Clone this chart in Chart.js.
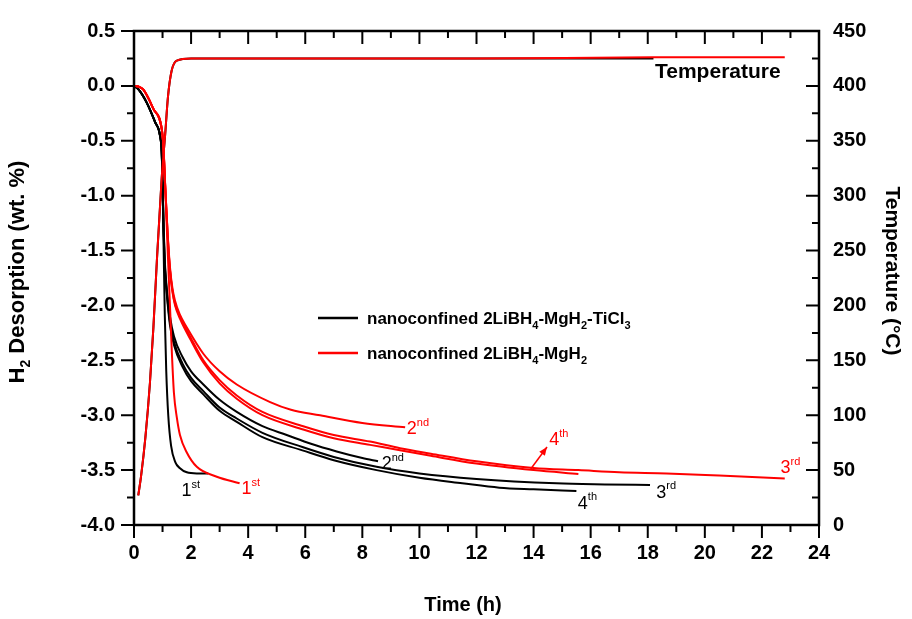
<!DOCTYPE html>
<html>
<head>
<meta charset="utf-8">
<script src="https://cdn.jsdelivr.net/npm/chart.js@4.4.0/dist/chart.umd.min.js"></script>
<style>
  html, body { margin: 0; background: #fff; }
  #wrap { width: 912px; height: 619px; }
</style>
</head>
<body>
<div id="wrap"><canvas id="c" width="912" height="619"></canvas></div>
<script>
// ================================================================
// DATA
// ================================================================
// black = nanoconfined 2LiBH4-MgH2-TiCl3
const blk1Time = [0, 0.15, 0.44, 0.74, 0.91, 0.97, 1.0, 1.04, 1.08, 1.13, 1.2, 1.3, 1.45, 1.6, 1.85, 2.2, 2.6];
const blk1H2   = [0, -0.03, -0.15, -0.33, -0.45, -0.6, -0.9, -1.5, -2.1, -2.6, -3.0, -3.28, -3.43, -3.48, -3.52, -3.53, -3.53];

const blk2Time = [0, 0.15, 0.44, 0.74, 0.91, 0.97, 1.0, 1.04, 1.08, 1.15, 1.26, 1.4, 1.7, 2.0, 2.43, 3.0, 3.6, 4.5, 5.35, 6.2, 7.1, 8.0, 8.55];
const blk2H2   = [0, -0.03, -0.15, -0.33, -0.45, -0.6, -0.85, -1.3, -1.6, -1.85, -2.1, -2.28, -2.47, -2.6, -2.72, -2.86, -2.97, -3.1, -3.18, -3.26, -3.33, -3.39, -3.42];

const blk3Time = [0, 0.15, 0.44, 0.74, 0.91, 0.97, 1.0, 1.04, 1.08, 1.15, 1.26, 1.4, 1.7, 2.0, 2.43, 3.0, 3.6, 4.5, 5.9, 7.0, 8.5, 10, 12, 14.8, 16.5, 18.08];
const blk3H2   = [0, -0.03, -0.15, -0.33, -0.45, -0.6, -0.87, -1.33, -1.63, -1.88, -2.15, -2.33, -2.53, -2.66, -2.78, -2.93, -3.03, -3.16, -3.29, -3.38, -3.47, -3.53, -3.58, -3.62, -3.63, -3.636];

const blk4Time = [0, 0.15, 0.44, 0.74, 0.91, 0.97, 1.0, 1.04, 1.08, 1.15, 1.26, 1.4, 1.7, 2.0, 2.43, 3.0, 3.6, 4.5, 5.9, 7.0, 8.5, 10, 11.5, 12.8, 14, 15.5];
const blk4H2   = [0, -0.03, -0.15, -0.33, -0.45, -0.6, -0.88, -1.35, -1.65, -1.9, -2.18, -2.36, -2.56, -2.69, -2.81, -2.96, -3.06, -3.2, -3.32, -3.41, -3.5, -3.57, -3.62, -3.66, -3.675, -3.69];

// red = nanoconfined 2LiBH4-MgH2
const red1Time = [0, 0.15, 0.33, 0.68, 0.97, 1.03, 1.1, 1.18, 1.26, 1.33, 1.4, 1.5, 1.61, 1.85, 2.2, 2.9, 3.7];
const red1H2   = [0, -0.005, -0.035, -0.21, -0.39, -0.55, -0.95, -1.5, -2.0, -2.45, -2.8, -3.02, -3.18, -3.34, -3.47, -3.56, -3.62];

const red2Time = [0, 0.15, 0.33, 0.68, 0.97, 1.03, 1.09, 1.18, 1.26, 1.35, 1.44, 1.6, 1.85, 2.43, 3.0, 3.6, 4.77, 5.5, 6.52, 8.0, 9.5];
const red2H2   = [0, -0.005, -0.035, -0.21, -0.39, -0.55, -0.9, -1.35, -1.65, -1.85, -1.96, -2.08, -2.2, -2.44, -2.6, -2.72, -2.88, -2.95, -3.0, -3.07, -3.11];

const red3Time = [0, 0.15, 0.33, 0.68, 0.97, 1.03, 1.09, 1.18, 1.26, 1.35, 1.44, 1.61, 2.0, 2.43, 3.0, 3.6, 4.5, 5.93, 7.0, 8.27, 9.32, 10.4, 12, 14, 15.57, 17, 18.66, 20.5, 22.8];
const red3H2   = [0, -0.005, -0.035, -0.21, -0.39, -0.55, -0.9, -1.36, -1.67, -1.87, -1.99, -2.1, -2.3, -2.5, -2.68, -2.82, -2.97, -3.1, -3.18, -3.24, -3.3, -3.35, -3.42, -3.48, -3.5, -3.52, -3.53, -3.55, -3.577];

const red4Time = [0, 0.15, 0.33, 0.68, 0.97, 1.03, 1.09, 1.18, 1.26, 1.35, 1.44, 1.61, 2.0, 2.43, 3.0, 3.6, 4.5, 5.93, 7.0, 8.27, 9.32, 10.4, 12, 14, 15.57];
const red4H2   = [0, -0.005, -0.035, -0.21, -0.39, -0.55, -0.9, -1.37, -1.68, -1.88, -2.0, -2.12, -2.32, -2.52, -2.71, -2.85, -3.0, -3.13, -3.21, -3.27, -3.32, -3.37, -3.44, -3.5, -3.535];

// temperature (°C, right axis)
const tempBlkTime = [0.15, 0.25, 0.4, 0.56, 0.68, 0.8, 0.97, 1.09, 1.19, 1.32, 1.5, 2, 4, 8, 12, 18.2];
const tempBlk     = [27, 45, 80, 130, 180, 240, 316, 355, 390, 414, 423, 425, 425, 425, 425, 425];
const tempRedTime = [0.15, 0.25, 0.4, 0.56, 0.68, 0.8, 0.97, 1.09, 1.19, 1.32, 1.5, 2, 4, 8, 12, 18.2, 22.8];
const tempRed     = [27, 45, 80, 130, 180, 240, 316, 355, 390, 414, 423, 425, 425, 425, 425, 426, 426];

// cycle labels: [number, superscript, time, wt%, series]
const cycleLabels = [
    ['1', 'st', 1.66, -3.74, 'black'],
    ['1', 'st', 3.77, -3.72, 'red'],
    ['2', 'nd', 8.68, -3.49, 'black'],
    ['2', 'nd', 9.56, -3.17, 'red'],
    ['4', 'th', 14.55, -3.27, 'red'],
    ['3', 'rd', 18.3, -3.75, 'black'],
    ['4', 'th', 15.55, -3.85, 'black'],
    ['3', 'rd', 22.65, -3.53, 'red']
];

// ================================================================
// HELPERS
// ================================================================
const FONT = '"Liberation Sans", Arial, sans-serif';
const BLACK = '#000', RED = '#f00';

const pts = (xs, ys) => xs.map((x, i) => ({ x, y: ys[i] }));

function line(label, xs, ys, color, axis, order) {
    return { label, data: pts(xs, ys), borderColor: color, borderWidth: 2, pointRadius: 0,
             cubicInterpolationMode: 'monotone', fill: false, yAxisID: axis, order };
}

// parts: [[text, 'sub'|'sup'|undefined], ...]
function richText(ctx, parts, x, y, size, weight, color, align) {
    const widths = parts.map(([t, k]) => {
        ctx.font = `${weight} ${k ? Math.round(size * 0.62) : size}px ${FONT}`;
        return ctx.measureText(t).width;
    });
    const total = widths.reduce((a, b) => a + b, 0);
    let cx = align === 'center' ? x - total / 2 : x;
    ctx.fillStyle = color; ctx.textBaseline = 'alphabetic'; ctx.textAlign = 'left';
    parts.forEach(([t, k], i) => {
        ctx.font = `${weight} ${k ? Math.round(size * 0.62) : size}px ${FONT}`;
        const dy = k === 'sub' ? size * 0.28 : k === 'sup' ? -size * 0.45 : 0;
        ctx.fillText(t, cx, y + dy);
        cx += widths[i];
    });
    return total;
}

const framePlugin = {
    id: 'frame',
    afterDraw(chart) {
        const { ctx, chartArea: a, scales: { x, y, y2 } } = chart;
        ctx.save();
        ctx.strokeStyle = '#000'; ctx.lineWidth = 2.5; ctx.lineCap = 'butt';
        ctx.strokeRect(a.left, a.top, a.right - a.left, a.bottom - a.top);
        ctx.lineWidth = 2;
        ctx.beginPath();
        for (let t = 0; t <= 24; t++) {
            const px = x.getPixelForValue(t), L = t % 2 ? 7 : 13;
            ctx.moveTo(px, a.bottom); ctx.lineTo(px, a.bottom + L);   // bottom: outward
            ctx.moveTo(px, a.top);    ctx.lineTo(px, a.top + L);      // top: inward
        }
        for (let i = 0; i <= 18; i++) {
            const py = y.getPixelForValue(-4 + i * 0.25), L = i % 2 ? 7 : 13;
            ctx.moveTo(a.left, py); ctx.lineTo(a.left - L, py);       // left: outward
        }
        for (let T = 0; T <= 450; T += 25) {
            const py = y2.getPixelForValue(T), L = T % 50 ? 7 : 13;
            ctx.moveTo(a.right, py); ctx.lineTo(a.right - L, py);     // right: inward
        }
        ctx.stroke();

        // axis titles
        ctx.save(); ctx.translate(24, 272); ctx.rotate(-Math.PI / 2);
        richText(ctx, [['H'], ['2', 'sub'], [' Desorption (wt. %)']], 0, 0, 22, 'bold', BLACK, 'center');
        ctx.restore();
        ctx.save(); ctx.translate(886, 271); ctx.rotate(Math.PI / 2);
        richText(ctx, [['Temperature (°C)']], 0, 0, 21, 'bold', BLACK, 'center');
        ctx.restore();
        richText(ctx, [['Time (h)']], 463, 611, 20, 'bold', BLACK, 'center');

        // legend
        [[BLACK, 318, [['nanoconfined 2LiBH'], ['4', 'sub'], ['-MgH'], ['2', 'sub'], ['-TiCl'], ['3', 'sub']]],
         [RED,   353, [['nanoconfined 2LiBH'], ['4', 'sub'], ['-MgH'], ['2', 'sub']]]].forEach(([c, ly, parts]) => {
            ctx.strokeStyle = c; ctx.lineWidth = 2.5;
            ctx.beginPath(); ctx.moveTo(318, ly); ctx.lineTo(358, ly); ctx.stroke();
            richText(ctx, parts, 367, ly + 6, 17, 'bold', BLACK, 'left');
        });

        richText(ctx, [['Temperature']], 655, 78, 21, 'bold', BLACK, 'left');

        // cycle labels
        cycleLabels.forEach(([n, s, t, v, series]) => {
            richText(ctx, [[n], [s, 'sup']], x.getPixelForValue(t), y.getPixelForValue(v), 18, 'normal', series === 'red' ? RED : BLACK, 'left');
        });

        // arrow to red 4th
        const ax0 = x.getPixelForValue(13.9), ay0 = y.getPixelForValue(-3.49);
        const ax1 = x.getPixelForValue(14.47), ay1 = y.getPixelForValue(-3.29);
        ctx.strokeStyle = RED; ctx.fillStyle = RED; ctx.lineWidth = 1.5;
        ctx.beginPath(); ctx.moveTo(ax0, ay0); ctx.lineTo(ax1, ay1); ctx.stroke();
        const ang = Math.atan2(ay1 - ay0, ax1 - ax0);
        ctx.beginPath();
        ctx.moveTo(ax1, ay1);
        ctx.lineTo(ax1 - 9 * Math.cos(ang - 0.4), ay1 - 9 * Math.sin(ang - 0.4));
        ctx.lineTo(ax1 - 9 * Math.cos(ang + 0.4), ay1 - 9 * Math.sin(ang + 0.4));
        ctx.closePath(); ctx.fill();
        ctx.restore();
    }
};

// ================================================================
// CHART
// ================================================================
const tickFont = { family: FONT, size: 20, weight: 'bold' };

new Chart(document.getElementById('c'), {
    type: 'line',
    data: {
        datasets: [
            line('red 1st', red1Time, red1H2, RED, 'y', 0),
            line('red 2nd', red2Time, red2H2, RED, 'y', 0),
            line('red 3rd', red3Time, red3H2, RED, 'y', 0),
            line('red 4th', red4Time, red4H2, RED, 'y', 0),
            line('red T', tempRedTime, tempRed, RED, 'y2', 0),
            line('black 1st', blk1Time, blk1H2, BLACK, 'y', 1),
            line('black 2nd', blk2Time, blk2H2, BLACK, 'y', 1),
            line('black 3rd', blk3Time, blk3H2, BLACK, 'y', 1),
            line('black 4th', blk4Time, blk4H2, BLACK, 'y', 1),
            line('black T', tempBlkTime, tempBlk, BLACK, 'y2', 1)
        ]
    },
    plugins: [framePlugin],
    options: {
        responsive: false,
        animation: false,
        layout: { padding: { top: 20, left: 0, right: 0, bottom: 0 } },
        plugins: { legend: { display: false }, tooltip: { enabled: false } },
        scales: {
            x: {
                type: 'linear', min: 0, max: 24,
                ticks: { stepSize: 2, color: '#000', font: tickFont, padding: 16, maxRotation: 0 },
                grid: { display: false, drawTicks: false }, border: { display: false },
                afterFit: s => { s.height = 94; }
            },
            y: {
                position: 'left', min: -4, max: 0.5,
                ticks: { stepSize: 0.5, color: '#000', font: tickFont, padding: 19, callback: v => v.toFixed(1) },
                grid: { display: false, drawTicks: false }, border: { display: false },
                afterFit: s => { s.width = 134; }
            },
            y2: {
                position: 'right', min: 0, max: 450,
                ticks: { stepSize: 50, color: '#000', font: tickFont, padding: 14 },
                grid: { display: false, drawTicks: false }, border: { display: false },
                afterFit: s => { s.width = 93; }
            }
        }
    }
});
</script>
</body>
</html>
